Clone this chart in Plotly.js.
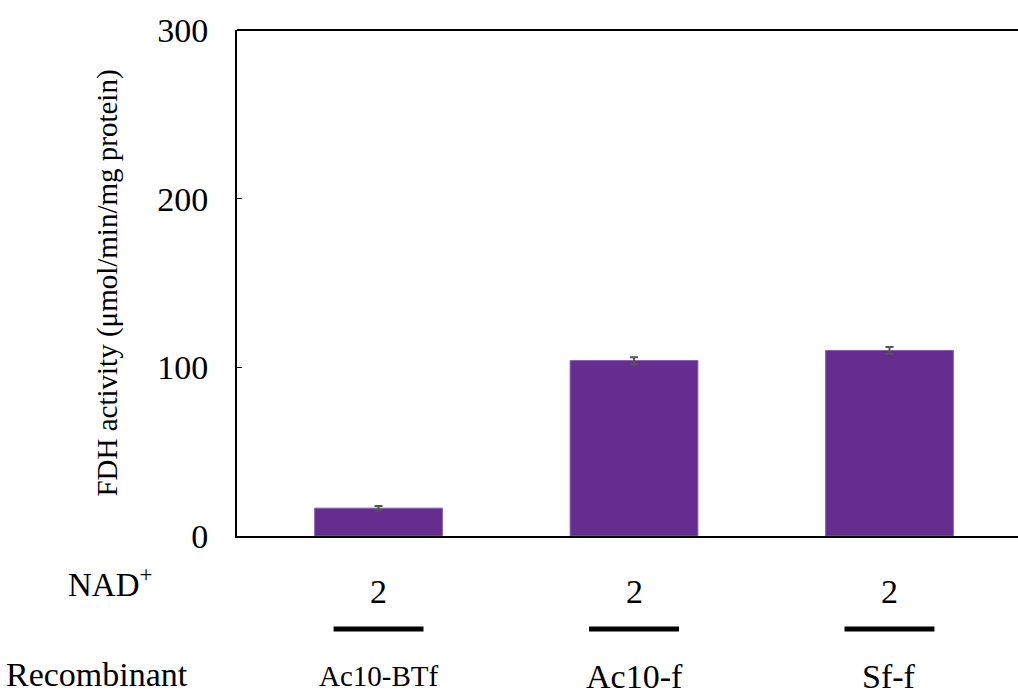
<!DOCTYPE html>
<html>
<head>
<meta charset="utf-8">
<script src="https://cdn.plot.ly/plotly-3.0.1.min.js"></script>
<style>html,body{margin:0;padding:0;background:#fff;}#chart{width:1018px;height:695px;}</style>
</head>
<body>
<div id="chart"></div>
<script>
const categories = ["Ac10-BTf", "Ac10-f", "Sf-f"];
const values = [16.5, 104, 110];
const errors = [1.3, 2, 2];
const nadValues = ["2", "2", "2"];
const yTicks = [0, 100, 200, 300];

const xs = categories.map((c, i) => i);
const SERIF = "Liberation Serif";

const trace = {
  type: "bar", x: xs, y: values, width: 0.5,
  marker: {color: "#662d91", line: {color: "#8a5cb0", width: 1}},
  error_y: {type: "data", array: errors, visible: true, color: "#555555", thickness: 2, width: 4},
  hoverinfo: "none"
};

const H = 695, T = 30, B = 159, L = 237, W = 1018;
const plotH = H - T - B;
const py = p => (H - B - p) / plotH;
const px = p => (p - L) / (W - L);

const annotations = [];
const shapes = [];
xs.forEach((x, i) => {
  annotations.push({x: x, y: py(591), xref: "x", yref: "paper", text: nadValues[i], showarrow: false,
    font: {family: SERIF, size: 34, color: "#000"}, yanchor: "middle"});
  const fs = i === 0 ? 29 : 34;
  annotations.push({x: x, y: py(676), xref: "x", yref: "paper", text: categories[i], showarrow: false,
    font: {family: SERIF, size: fs, color: "#000"}, yanchor: "middle"});
  shapes.push({type: "line", xref: "x", yref: "paper", x0: x - 0.176, x1: x + 0.176, y0: py(629), y1: py(629),
    line: {color: "#000", width: 5}});
});
annotations.push({x: px(110), y: py(582), xref: "paper", yref: "paper", text: "NAD<sup>+</sup>", showarrow: false,
  font: {family: SERIF, size: 33, color: "#000"}, yanchor: "middle", xanchor: "center"});
annotations.push({x: px(97), y: py(674), xref: "paper", yref: "paper", text: "Recombinant", showarrow: false,
  font: {family: SERIF, size: 34, color: "#000"}, yanchor: "middle", xanchor: "center"});

shapes.push({type: "line", xref: "paper", yref: "paper", x0: 0, x1: 1, y0: 1, y1: 1, line: {color: "#000", width: 2}});

const layout = {
  width: W, height: H,
  margin: {l: L, r: 0, t: T, b: B, pad: 0},
  paper_bgcolor: "#fff", plot_bgcolor: "#fff",
  font: {family: SERIF, color: "#000"},
  showlegend: false,
  xaxis: {range: [-0.554, 2.503], showgrid: false, zeroline: false, showticklabels: false,
    ticks: "", showline: true, linecolor: "#000", linewidth: 2},
  yaxis: {range: [0, 300], tickvals: yTicks, ticktext: yTicks.map(String), showgrid: false, zeroline: false,
    ticks: "inside", ticklen: 5, tickcolor: "#000", tickwidth: 1, showline: true, linecolor: "#000", linewidth: 2,
    tickfont: {family: SERIF, size: 34, color: "#000"}, ticklabelstandoff: 20,
    title: {text: "FDH activity (μmol/min/mg protein)", font: {family: SERIF, size: 29, color: "#000"}, standoff: 31}},
  annotations: annotations,
  shapes: shapes
};

Plotly.newPlot("chart", [trace], layout, {staticPlot: true});
</script>
</body>
</html>
